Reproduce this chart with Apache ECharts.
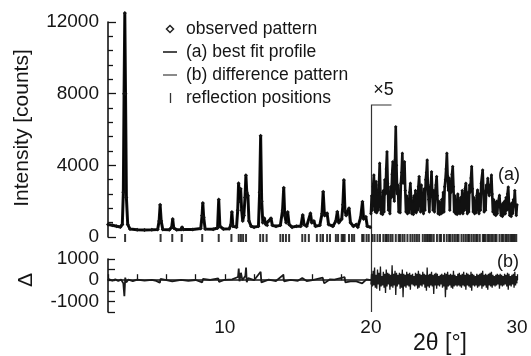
<!DOCTYPE html>
<html>
<head>
<meta charset="utf-8">
<script src="https://cdn.jsdelivr.net/npm/echarts@6/dist/echarts.min.js"></script>
<style>
html,body{margin:0;padding:0;background:#fff;}
#c{width:531px;height:356px;}
</style>
</head>
<body>
<div id="c"></div>
<script>
// ---------- DATA ----------
// observed pattern / best fit below 20° : 2θ (deg) and intensity (counts)
const obsLowX = [2.00,2.30,2.60,2.85,2.98,3.05,3.10,3.15,3.20,3.26,3.35,3.50,4.00,4.50,5.00,5.40,5.50,5.57,5.64,5.75,
  6.20,6.36,6.43,6.50,6.70,7.00,7.07,7.15,7.80,8.35,8.44,8.49,8.55,8.65,9.20,9.50,9.58,9.66,9.90,10.30,
  10.42,10.48,10.55,10.80,10.88,10.94,11.00,11.08,11.15,11.22,11.30,11.38,11.44,11.50,11.58,11.65,11.80,12.00,12.30,12.38,
  12.45,12.52,12.60,12.70,12.80,12.90,13.00,13.16,13.25,13.50,13.80,13.95,14.03,14.10,14.20,14.30,14.40,14.60,14.90,15.20,
  15.33,15.42,15.60,15.86,15.95,16.09,16.20,16.50,16.65,16.73,16.82,17.00,17.10,17.40,17.60,17.70,17.80,18.00,18.08,18.15,
  18.22,18.30,18.50,18.60,18.80,19.00,19.10,19.30,19.42,19.50,19.65,19.75,19.95];
const obsLowY = [700,660,600,560,700,2500,8000,12500,8000,2200,700,450,400,390,400,420,900,1800,900,420,
  400,550,1000,500,400,420,550,420,420,480,1200,1900,1100,450,430,500,2100,600,450,460,
  700,1400,600,550,1500,3000,2000,2700,1500,900,1200,2200,3450,2500,2300,900,600,550,600,2500,
  5650,2000,800,1050,700,650,900,1050,650,600,650,1500,2750,1200,800,1400,700,550,600,600,
  1230,700,600,1320,800,900,600,650,1300,2530,1200,1320,700,600,900,1410,800,1000,1800,3180,
  1500,1200,1600,800,600,700,550,1100,1970,1000,1130,600,550];

// observed pattern 20–30° (shown ×5), sampled every 0.05°
const highStart = 20, highStep = 0.05;
const obsHighY = [1300,2300,1500,2800,3460,2600,1400,3100,1350,2400,1500,2900,4110,2500,1300,2200,1250,2600,1400,3200,
  2400,3800,4760,3000,1500,2300,1300,2800,2200,3500,4200,2600,2000,4300,6150,4000,2400,2900,1400,2200,
  1350,3000,3600,4670,3000,3500,4200,2600,1400,2300,1300,2100,1350,2500,3000,2200,1300,2000,1250,2300,
  1400,2600,1350,2200,1500,2800,3370,2500,1400,2900,1450,2400,1300,2700,1500,3200,3600,4300,2800,2100,
  1400,2700,2900,3640,2400,1500,2600,1400,2500,2900,3370,2300,1300,2000,1250,1900,1300,2100,1350,2500,
  1400,2800,3200,3800,4670,3400,2600,3300,1500,3000,2500,3500,3930,2800,1400,2300,1300,2000,1250,2400,
  1350,2000,1300,2200,1400,2600,1300,2400,1500,2700,3000,2200,1300,2500,1400,2900,2500,3300,3930,2700,
  1400,2200,1300,2000,1350,2300,2630,1900,1300,2400,1500,3000,2900,3740,2600,1400,2500,1500,2900,2600,
  3280,2500,2300,2900,2600,3460,2400,1400,2100,1250,1900,1200,2000,1300,1900,1800,2330,1700,1200,1800,
  1150,1900,1250,2000,1300,2200,1500,2400,2790,1900,1200,1800,1150,1900,1300,2100,1900,2600,1700,1200,1800];

// difference pattern below 20°
const diffLowX = [2.0,2.3,2.5,2.7,2.9,3.05,3.12,3.18,3.25,3.4,3.7,4.0,4.5,5.0,5.3,5.55,5.6,6.0,6.4,7.0,
  7.5,8.0,8.45,8.5,9.0,9.55,9.6,10.0,10.5,10.9,10.95,11.0,11.1,11.2,11.4,11.45,11.5,11.6,12.0,12.45,
  12.5,13.0,13.5,14.0,14.05,14.5,15.0,15.3,15.6,16.0,16.7,16.8,17.2,17.5,18.2,18.25,18.6,19.0,19.4,19.7,19.9,20.0];
const diffLowY = [60,-20,40,-30,30,-150,-750,120,-100,30,-40,30,-20,20,-30,-120,60,0,-60,20,
  -30,10,-100,60,10,80,-80,20,40,150,550,-50,350,0,200,600,-100,100,0,400,
  -100,30,-40,250,-50,20,-30,100,-40,0,120,-150,40,30,150,-100,-60,-60,-150,40,20,0];

// difference pattern 20–30° (shown ×5), sampled every 0.05°
const diffHighY = [-200,300,-300,450,-250,600,-350,250,-400,500,-200,350,-500,650,-300,200,-250,400,-350,300,
  -600,500,-300,350,-200,300,-450,250,-300,700,-350,300,-250,450,-700,350,-300,250,-200,350,
  -400,300,-350,500,-800,300,-300,250,-350,400,-250,300,-300,350,-450,250,-200,300,-250,200,
  -300,350,-250,300,-400,450,-350,300,-250,250,-300,400,-200,300,-350,250,-500,600,-300,250,
  -350,300,-250,400,-300,250,-650,300,-250,350,-400,300,-250,200,-300,250,-200,300,-350,250,
  -300,350,-800,300,-450,400,-300,250,-250,300,-350,250,-400,450,-300,250,-250,200,-300,300,
  -250,350,-300,250,-350,300,-250,400,-300,250,-450,350,-250,300,-300,250,-350,400,-500,300,
  -250,250,-300,200,-250,300,-350,250,-300,300,-250,350,-400,450,-300,250,-250,300,-350,250,
  -450,300,-250,350,-300,400,-350,250,-250,200,-300,250,-250,300,-200,250,-400,300,-250,250,
  -300,200,-250,300,-200,250,-300,350,-450,300,-250,200,-300,250,-200,300,-350,400,-250,200,-150];

// reflection positions (2θ, deg)
const reflections = [3.17,5.6,6.4,7.05,8.45,9.58,10.45,10.95,11.1,11.25,11.45,12.42,12.62,12.86,13.8,13.98,14.18,14.4,
  15.3,15.5,15.75,16.3,16.55,16.72,17.0,17.2,17.6,17.75,18.0,18.1,18.2,18.5,18.7,18.85,19.4,19.5,19.7,19.85,
  20.1,20.25,20.45,20.62,20.85,21.0,21.08,21.2,21.35,21.48,21.7,21.9,22.0,22.16,22.3,22.5,22.7,22.85,23.0,23.15,
  23.3,23.55,23.7,23.84,23.95,24.05,24.16,24.3,24.52,24.7,24.8,25.0,25.19,25.35,25.45,25.6,25.75,25.9,26.0,26.2,
  26.35,26.5,26.65,26.75,26.9,27.05,27.2,27.3,27.45,27.66,27.75,27.85,28.0,28.1,28.23,28.35,28.5,28.6,28.8,28.95,
  29.05,29.2,29.3,29.42,29.55,29.65,29.75,29.84,29.95];

const xTicks = [10, 20, 30];
const intensityTicks = [0, 4000, 8000, 12000];
const diffTicks = [-1000, 0, 1000];
const scaleBreak = 20;   // ×5 from here on
const legendItems = ['observed pattern', '(a) best fit profile', '(b) difference pattern', 'reflection positions'];

// ---------- BUILD ----------
const pairs = (xs, ys) => xs.map((x, i) => [x, ys[i]]);
const gridPairs = ys => ys.map((y, i) => [+(highStart + i * highStep).toFixed(2), y]);

const FONT = 'Liberation Sans, Arial, Helvetica, sans-serif';
const INK = '#151515';
const L = 108, R = 14;

const chart = echarts.init(document.getElementById('c'), null, {renderer: 'canvas'});

const option = {
  animation: false,
  backgroundColor: '#fff',
  grid: [
    {left: L, right: R, top: 22, height: 215},
    {left: L, right: R, top: 234, height: 8},
    {left: L, right: R, top: 259, height: 53}
  ],
  xAxis: [
    {gridIndex: 0, type: 'value', min: 2, max: 30, show: false},
    {gridIndex: 1, type: 'value', min: 2, max: 30, show: false},
    {gridIndex: 2, type: 'value', min: 2, max: 30, interval: 2,
      axisLine: {lineStyle: {color: INK, width: 1.6}},
      axisTick: {inside: true, length: 6, lineStyle: {color: INK, width: 1.3}},
      splitLine: {show: false},
      axisLabel: {margin: 6, color: INK, fontFamily: FONT, fontSize: 19,
        formatter: v => xTicks.includes(v) ? String(v) : ''}
    }
  ],
  yAxis: [
    {gridIndex: 0, type: 'value', min: 0, max: 12000, interval: 4000,
      axisLine: {show: true, lineStyle: {color: INK, width: 1.6}},
      axisTick: {inside: true, length: 8, lineStyle: {color: INK, width: 1.3}},
      minorTick: {show: true, splitNumber: 5, length: 5, lineStyle: {color: INK, width: 1.3}},
      splitLine: {show: false},
      axisLabel: {margin: 9, color: INK, fontFamily: FONT, fontSize: 19,
        formatter: v => intensityTicks.includes(v) ? String(v) : ''}
    },
    {gridIndex: 1, type: 'value', min: 0, max: 1, show: false},
    {gridIndex: 2, type: 'value', min: -1500, max: 1000, interval: 500,
      axisLine: {show: true, lineStyle: {color: INK, width: 1.6}},
      axisTick: {inside: true, length: 7, lineStyle: {color: INK, width: 1.3}},
      splitLine: {show: false},
      axisLabel: {margin: 9, color: INK, fontFamily: FONT, fontSize: 19,
        formatter: v => diffTicks.includes(v) ? String(v) : ''}
    }
  ],
  series: [
    {name: 'observed', type: 'line', xAxisIndex: 0, yAxisIndex: 0, data: pairs(obsLowX, obsLowY),
      clip: false, symbol: 'diamond', symbolSize: 4, showAllSymbol: true,
      itemStyle: {color: '#111'}, lineStyle: {color: '#111', width: 3}},
    {name: 'observed-high', type: 'line', xAxisIndex: 0, yAxisIndex: 0, data: gridPairs(obsHighY),
      symbol: 'diamond', symbolSize: 3.5, showAllSymbol: true,
      itemStyle: {color: '#111'}, lineStyle: {color: '#111', width: 2.6}},
    {name: 'fit', type: 'line', xAxisIndex: 0, yAxisIndex: 0, data: pairs(obsLowX, obsLowY),
      clip: false, showSymbol: false, lineStyle: {color: '#000', width: 1}},
    {name: 'reflections', type: 'scatter', xAxisIndex: 1, yAxisIndex: 1,
      data: reflections.map(x => [x, 0.5]), symbol: 'rect', symbolSize: [2, 8],
      itemStyle: {color: '#000'}},
    {name: 'diff', type: 'line', xAxisIndex: 2, yAxisIndex: 2, data: pairs(diffLowX, diffLowY),
      showSymbol: false, lineStyle: {color: '#1a1a1a', width: 1.8}},
    {name: 'diff-high', type: 'line', xAxisIndex: 2, yAxisIndex: 2, data: gridPairs(diffHighY),
      showSymbol: false, lineStyle: {color: '#1a1a1a', width: 1.3}}
  ]
};
chart.setOption(option);

// ---------- annotations placed through the axes' scales ----------
const pTop = chart.convertToPixel({gridIndex: 0}, [scaleBreak, 0]);
const pBot = chart.convertToPixel({gridIndex: 2}, [scaleBreak, -1500]);
const xb = Math.round(pTop[0]) + 0.5;
const yBracket = 105;

const txt = (x, y, s, size) => ({type: 'text', x: x, y: y,
  style: {text: s, fill: INK, font: size + 'px ' + FONT, textVerticalAlign: 'middle'}});

const g = [];
// ×5 bracket
g.push({type: 'polyline', shape: {points: [[xb + 20, yBracket], [xb, yBracket], [xb, pBot[1]]]},
  style: {stroke: '#333', lineWidth: 1.2, fill: null}});
g.push({type: 'text', x: xb + 12, y: 90,
  style: {text: '×5', fill: INK, font: '18px ' + FONT, textAlign: 'center', textVerticalAlign: 'middle'}});
// panel labels
g.push(txt(498, 175, '(a)', 18));
g.push(txt(497, 262, '(b)', 18));
// axis titles
g.push({type: 'text', x: 22, y: 128, rotation: Math.PI / 2,
  style: {text: 'Intensity [counts]', fill: INK, font: '21px ' + FONT, textAlign: 'center', textVerticalAlign: 'middle'}});
g.push({type: 'text', x: 26, y: 280, rotation: Math.PI / 2,
  style: {text: 'Δ', fill: INK, font: '21px ' + FONT, textAlign: 'center', textVerticalAlign: 'middle'}});
g.push({type: 'text', x: 440, y: 344,
  style: {text: '2θ [°]', fill: INK, font: '23px ' + FONT, textAlign: 'center', textVerticalAlign: 'middle'}});
// legend
const rows = [29, 52, 75, 98];
g.push({type: 'polygon', shape: {points: [[170, 25.5], [173.5, 29], [170, 32.5], [166.5, 29]]},
  style: {stroke: '#222', lineWidth: 1.5, fill: '#fff'}});
g.push({type: 'line', shape: {x1: 163, y1: rows[1], x2: 177, y2: rows[1]}, style: {stroke: '#111', lineWidth: 1.5}});
g.push({type: 'line', shape: {x1: 163, y1: rows[2], x2: 177, y2: rows[2]}, style: {stroke: '#8a8a8a', lineWidth: 2}});
g.push({type: 'line', shape: {x1: 170.5, y1: rows[3] - 5, x2: 170.5, y2: rows[3] + 5}, style: {stroke: '#333', lineWidth: 1.3}});
legendItems.forEach((s, i) => g.push(txt(186, rows[i], s, 17.5)));

chart.setOption({graphic: g});
</script>
</body>
</html>
